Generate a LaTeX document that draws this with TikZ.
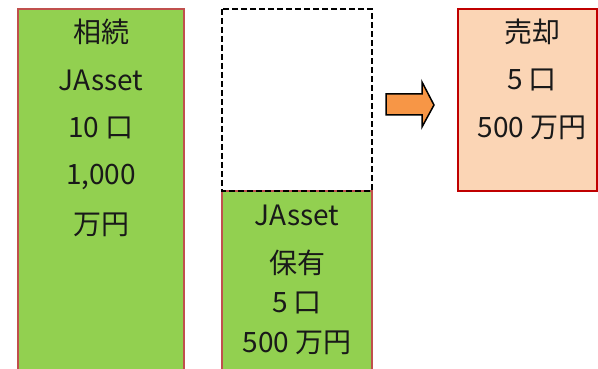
\documentclass[tikz,border=0pt]{standalone}
\usepackage{fontspec}
\setmainfont{Noto Sans CJK JP}
\definecolor{boxgreen}{HTML}{92D050}
\definecolor{boxpeach}{HTML}{FBD5B5}
\definecolor{edgered}{HTML}{C0504D}
\definecolor{darkred}{HTML}{C00000}
\definecolor{arroworange}{HTML}{F79646}
\tikzset{
  greenbox/.style={draw=edgered,fill=boxgreen,line width=1.5pt},
  peachbox/.style={draw=darkred,fill=boxpeach,line width=1.5pt},
  emptybox/.style={draw=black,dash pattern=on 6pt off 3pt,line width=1.5pt},
  txt/.style={font=\fontsize{28}{32}\selectfont,inner sep=0pt,text=black!90}
}
\begin{document}
\begin{tikzpicture}[x=1pt,y=-1pt]
    \useasboundingbox (0,0) rectangle (598,369);
    %% Boxes
    \draw[greenbox] (18,9) rectangle (184,380);
    \draw[greenbox] (222,191) rectangle (372,380);
    \draw[emptybox] (222,9) rectangle (372,191);
    \draw[peachbox] (458,9) rectangle (597,191);
    %% Arrow
    \draw[fill=arroworange,line width=1.5pt,line join=miter]
        (386,94) -- (422,94) -- (422,82) -- (434,105) -- (422,127) -- (422,115) -- (386,115) -- cycle;
    %% Labels
    \node[txt] (l1) at (101,32) {相続};
    \node[txt] (l2) at (101,80) {JAsset};
    \node[txt] (l3) at (101,128) {10 口};
    \node[txt] (l4) at (101,177) {1,000};
    \node[txt] (l5) at (101,225) {万円};
    \node[txt] (m1) at (297,215) {JAsset};
    \node[txt] (m2) at (297,263) {保有};
    \node[txt] (m3) at (297,303) {5 口};
    \node[txt] (m4) at (297,343) {500 万円};
    \node[txt] (r1) at (532,32) {売却};
    \node[txt] (r2) at (532,80) {5 口};
    \node[txt] (r3) at (532,128) {500 万円};
\end{tikzpicture}
\end{document}
